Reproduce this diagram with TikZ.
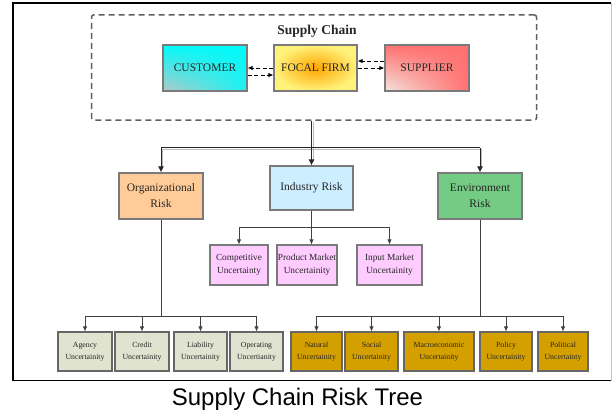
\documentclass[tikz,border=0pt]{standalone}
\usepackage{fontspec}
\setmainfont{Liberation Serif}
\setsansfont{Liberation Sans}
\usetikzlibrary{arrows.meta,shadings}
\definecolor{custA}{HTML}{00FAFA}
\definecolor{custB}{HTML}{B4C8C8}
\definecolor{suppA}{HTML}{FF7070}
\definecolor{suppB}{HTML}{F2E6DE}
\definecolor{focIn}{HTML}{FFA500}
\definecolor{focOut}{HTML}{FFF27A}
\definecolor{orgC}{HTML}{FFCC99}
\definecolor{indC}{HTML}{CCEEFF}
\definecolor{envC}{HTML}{74CC84}
\definecolor{midC}{HTML}{FFCCFF}
\definecolor{leafA}{HTML}{E0E3CF}
\definecolor{leafB}{HTML}{D4A000}
\definecolor{bord}{HTML}{7A7A7A}
\begin{document}
\begin{tikzpicture}[x=1pt,y=-1pt,
  box/.style={draw=bord, line width=1.1pt, align=center, inner sep=0pt, text=black!85},
  topbox/.style={box, minimum width=84pt, minimum height=46pt, font=\fontsize{11.5}{14}\selectfont},
  lvl1/.style={box, minimum height=46pt, font=\fontsize{11.5}{16}\selectfont},
  lvl2/.style={box, fill=midC, minimum height=40pt, font=\fontsize{9.3}{13}\selectfont},
  leaf/.style={box, draw=black!60, minimum height=39pt, font=\fontsize{7.8}{12}\selectfont},
  dasharr/.style={draw=black, line width=0.9pt, dash pattern=on 4pt off 2.5pt, -{Latex[length=5pt,width=4.5pt]}},
  bline/.style={draw=black!85, line width=1pt},
  gshadow/.style={draw=gray!55, line width=1pt, transform canvas={xshift=1.6pt,yshift=-1.6pt}},
  bigtip/.style={-{Latex[length=6pt,width=6pt]}},
  thin/.style={draw=black!75, line width=0.8pt},
  smalltip/.style={-{Latex[length=5pt,width=4.5pt]}}
]
\useasboundingbox (0,0) rectangle (612,412);
\fill[white] (0,0) rectangle (612,412);
% outer frame
\draw[black, line width=1.6pt] (611,3) -- (13,3) -- (13,380.5) -- (611,380.5);
\draw[gray!45, line width=0.8pt] (611,3) -- (611,380.5);

% supply chain box
\node[draw=gray!75!black, line width=1.5pt, dash pattern=on 6pt off 4pt, rounded corners=2pt,
      minimum width=445pt, minimum height=105pt, inner sep=0pt] (sc) at (314,67.5) {};
\node[font=\bfseries\fontsize{13.5}{16}\selectfont, text=black!85] (sctitle) at (317,31) {Supply Chain};

\node[topbox, upper left=custA, upper right=custA, lower right=custA!85!custB, lower left=custB] (cust) at (205,68) {CUSTOMER};
\node[topbox, minimum width=83pt, inner color=focIn, outer color=focOut] (focal) at (315.5,68) {FOCAL FIRM};
\node[topbox, upper left=suppA, upper right=suppA, lower right=suppA, lower left=suppB] (supp) at (427,68) {SUPPLIER};

\draw[dasharr] (focal.west) -- (cust.east);
\draw[dasharr] ([yshift=-7pt]cust.east) -- ([yshift=-7pt]focal.west);
\draw[dasharr] ([yshift=7pt]supp.west) -- ([yshift=7pt]focal.east);
\draw[dasharr] (focal.east) -- (supp.west);

% level 1
\node[lvl1, fill=orgC, minimum width=84pt] (org) at (161,196) {Organizational\\Risk};
\node[lvl1, fill=indC, minimum width=83pt, minimum height=44pt] (ind) at (311.5,188) {Industry Risk};
\node[lvl1, fill=envC, minimum width=84pt] (env) at (480,196) {Environment\\Risk};

\coordinate (bus) at (313,147.5);
% gray shadows
\draw[gshadow] (ind.north |- sc.south) -- ([yshift=5pt]ind.north);
\draw[gshadow] ([yshift=5pt]org.north) -- (org.north |- bus) -- (env.north |- bus) -- ([yshift=5pt]env.north);
% black lines
\draw[bline, bigtip] (ind.north |- sc.south) -- (ind.north);
\draw[bline] (org.north |- bus) -- (env.north |- bus);
\draw[bline, bigtip] (org.north |- bus) -- (org.north);
\draw[bline, bigtip] (env.north |- bus) -- (env.north);

% level 2 (industry)
\node[lvl2, minimum width=58pt] (comp) at (239,265) {Competitive\\Uncertainty};
\node[lvl2, minimum width=60pt] (prod) at (307,265) {Product Market\\Uncertainity};
\node[lvl2, minimum width=65pt] (inp) at (389.5,265) {Input Market\\Uncertainity};
\coordinate (ibus) at (311.5,227);
\draw[thin] (ind.south) -- (ibus);
\draw[thin] (comp.north |- ibus) -- (inp.north |- ibus);
\draw[thin, smalltip] (comp.north |- ibus) -- (comp.north);
\draw[thin, smalltip] (ibus) -- (ibus |- prod.north);
\draw[thin, smalltip] (inp.north |- ibus) -- (inp.north);

% leaves: organizational
\node[leaf, fill=leafA, minimum width=54pt] (agency) at (85,351.5) {Agency\\Uncertainity};
\node[leaf, fill=leafA, minimum width=54pt] (credit) at (142,351.5) {Credit\\Uncertainity};
\node[leaf, fill=leafA, minimum width=53pt] (liab) at (200.5,351.5) {Liability\\Uncertainity};
\node[leaf, fill=leafA, minimum width=53pt] (oper) at (256.5,351.5) {Operating\\Uncertianity};
\coordinate (obus) at (161,316);
\draw[thin] (org.south) -- (obus);
\draw[thin] (agency.north |- obus) -- (oper.north |- obus);
\foreach \n in {agency,credit,liab,oper}
  \draw[thin, smalltip] (\n.north |- obus) -- (\n.north);

% leaves: environment
\node[leaf, fill=leafB, minimum width=51pt] (nat) at (316.5,351.5) {Natural\\Uncertainity};
\node[leaf, fill=leafB, minimum width=53pt] (soc) at (371.5,351.5) {Social\\Uncertainity};
\node[leaf, fill=leafB, minimum width=70pt] (macro) at (439,351.5) {Macroeconomic\\Uncertainity};
\node[leaf, fill=leafB, minimum width=52pt] (pol) at (506,351.5) {Policy\\Uncertainity};
\node[leaf, fill=leafB, minimum width=50pt] (polit) at (563,351.5) {Political\\Uncertainty};
\coordinate (ebus) at (480,316);
\draw[thin] (env.south) -- (ebus);
\draw[thin] (nat.north |- ebus) -- (polit.north |- ebus);
\foreach \n in {nat,soc,macro,pol,polit}
  \draw[thin, smalltip] (\n.north |- ebus) -- (\n.north);

% caption
\node[font=\sffamily\fontsize{24}{28}\selectfont, anchor=base, inner sep=0pt] (cap) at (297.5,405) {Supply Chain Risk Tree};
\end{tikzpicture}
\end{document}
